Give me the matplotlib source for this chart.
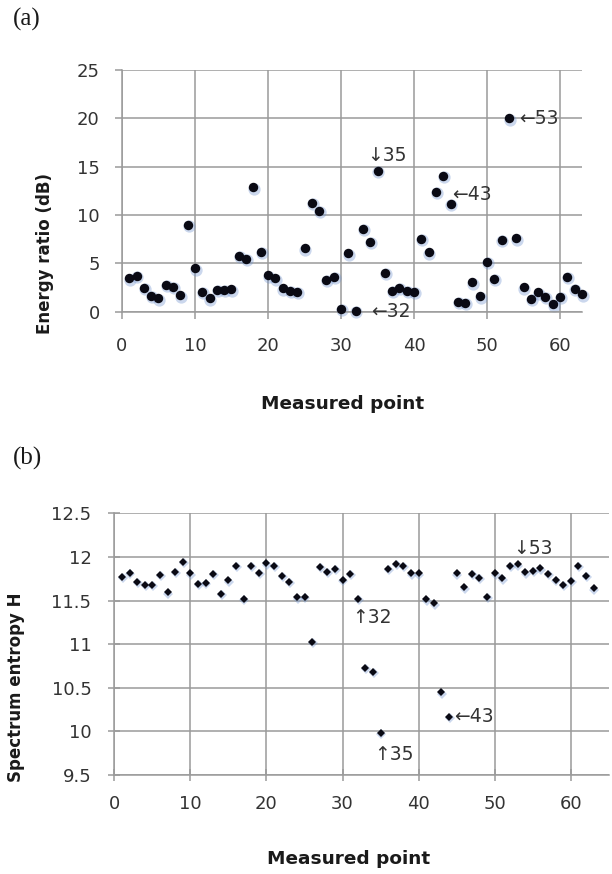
import matplotlib
matplotlib.use("Agg")
import matplotlib.pyplot as plt
import matplotlib.transforms as mtransforms
import numpy as np

# ---------------- data ----------------
points = list(range(1, 64))

energy_ratio_db = [
    3.45, 3.7, 2.5, 1.65, 1.4, 2.75, 2.55, 1.7, 8.97, 4.48,
    2.07, 1.38, 2.24, 2.24, 2.3, 5.76, 5.5, 12.86, 6.2, 3.76,
    3.45, 2.41, 2.17, 2.07, 6.55, 11.28, 10.45, 3.28, 3.62, 0.28,
    6.03, 0.1, 8.55, 7.24, 14.59, 4.03, 2.17, 2.48, 2.17, 2.07,
    7.55, 6.14, 12.41, 14.07, 11.14, 1.03, 0.9, 3.03, 1.59, 5.14,
    3.38, 7.41, 20.0, 7.59, 2.52, 1.34, 2.0, 1.55, 0.76, 1.55,
    3.62, 2.34, 1.79,
]

spectrum_entropy = [
    11.774, 11.82, 11.717, 11.678, 11.678, 11.793, 11.594, 11.831, 11.942, 11.812,
    11.69, 11.705, 11.805, 11.575, 11.732, 11.896, 11.518, 11.896, 11.82, 11.927,
    11.9, 11.782, 11.717, 11.537, 11.545, 11.03, 11.889, 11.831, 11.862, 11.736,
    11.805, 11.518, 10.73, 10.685, 9.985, 11.862, 11.92, 11.9, 11.812, 11.812,
    11.514, 11.468, 10.448, 10.169, 11.812, 11.652, 11.805, 11.762, 11.545, 11.812,
    11.755, 11.896, 11.915, 11.824, 11.839, 11.87, 11.805, 11.736, 11.678, 11.728,
    11.896, 11.782, 11.64,
]

x_ticks = [0, 10, 20, 30, 40, 50, 60]
y_ticks_a = [0, 5, 10, 15, 20, 25]
y_ticks_b = [9.5, 10, 10.5, 11, 11.5, 12, 12.5]
y_ticklabels_b = ["9.5", "10", "10.5", "11", "11.5", "12", "12.5"]

# annotations: (text, x, y)
annot_a = [("\u219335", 33.6, 16.2),
           ("\u219043", 45.2, 12.1),
           ("\u219053", 54.4, 20.0),
           ("\u219032", 34.1, 0.0)]
annot_b = [("\u219353", 52.4, 12.1),
           ("\u219132", 31.2, 11.3),
           ("\u219043", 44.7, 10.17),
           ("\u219135", 34.2, 9.73)]

# ---------------- figure ----------------
plt.rcParams['font.family'] = ['DejaVu Sans']
fig = plt.figure(figsize=(6.12, 8.74), dpi=100)

grid_color = '#9a9a9a'
tick_color = '#333333'


def style_axes(ax, direction, length, xpad, ypad):
    for s in ['top', 'right']:
        ax.spines[s].set_visible(False)
    for s in ['left', 'bottom']:
        ax.spines[s].set_color(grid_color)
        ax.spines[s].set_linewidth(1.1)
    ax.grid(True, color=grid_color, linewidth=1.1)
    ax.set_axisbelow(True)
    ax.tick_params(axis='both', colors=grid_color, labelcolor=tick_color,
                   labelsize=13, direction=direction, length=length, width=1.1)
    ax.tick_params(axis='x', pad=xpad)
    ax.tick_params(axis='y', pad=ypad)


def glow(ax, x, y, marker, size):
    off = mtransforms.ScaledTranslation(0.6 / 72, -1.0 / 72, fig.dpi_scale_trans)
    ax.plot(x, y, linestyle='none', marker=marker, markersize=size * 1.3,
            color='#6a8fcc', alpha=0.35, markeredgewidth=0,
            transform=ax.transData + off, zorder=2, clip_on=False)


# ---- (a) ----
ax1 = fig.add_axes([0.1993, 0.6434, 0.7516, 0.2765])
ax1.set_xlim(0, 63)
ax1.set_ylim(0, 25)
ax1.set_xticks(x_ticks)
ax1.set_yticks(y_ticks_a)
style_axes(ax1, 'out', 5, 13, 11)
glow(ax1, points, energy_ratio_db, 'o', 6.8)
ax1.plot(points, energy_ratio_db, linestyle='none', marker='o', markersize=6.8,
         color='#0a0a14', markeredgewidth=0, zorder=3, clip_on=False)
for t, x, y in annot_a:
    ax1.text(x, y, t, fontsize=13.5, color='#333333', ha='left', va='center', zorder=4)

# ---- (b) ----
ax2 = fig.add_axes([0.1868, 0.1133, 0.808, 0.2994])
ax2.set_xlim(0, 65)
ax2.set_ylim(9.5, 12.5)
ax2.set_xticks(x_ticks)
ax2.set_yticks(y_ticks_b)
ax2.set_yticklabels(y_ticklabels_b)
style_axes(ax2, 'inout', 9, 10, 12)
glow(ax2, points, spectrum_entropy, 'D', 4.3)
ax2.plot(points, spectrum_entropy, linestyle='none', marker='D', markersize=4.3,
         color='#0a0a14', markeredgewidth=0, zorder=3, clip_on=False)
for t, x, y in annot_b:
    ax2.text(x, y, t, fontsize=13.5, color='#333333', ha='left', va='center', zorder=4)

# ---- labels ----
fig.text(0.0735, 0.7105, 'Energy ratio (dB)', rotation=90, fontsize=12,
         fontweight='bold', color='#1a1a1a', ha='center', va='center')
fig.text(0.559, 0.5378, 'Measured point', fontsize=13.3,
         fontweight='bold', color='#1a1a1a', ha='center', va='center')
fig.text(0.026, 0.214, 'Spectrum entropy H', rotation=90, fontsize=12,
         fontweight='bold', color='#1a1a1a', ha='center', va='center')
fig.text(0.570, 0.0172, 'Measured point', fontsize=13.3,
         fontweight='bold', color='#1a1a1a', ha='center', va='center')

fig.text(0.021, 0.991, '(a)', fontsize=18, family='Liberation Serif',
         color='#1a1a1a', ha='left', va='top')
fig.text(0.021, 0.4886, '(b)', fontsize=18, family='Liberation Serif',
         color='#1a1a1a', ha='left', va='top')

fig.savefig('out.png', dpi=100)
